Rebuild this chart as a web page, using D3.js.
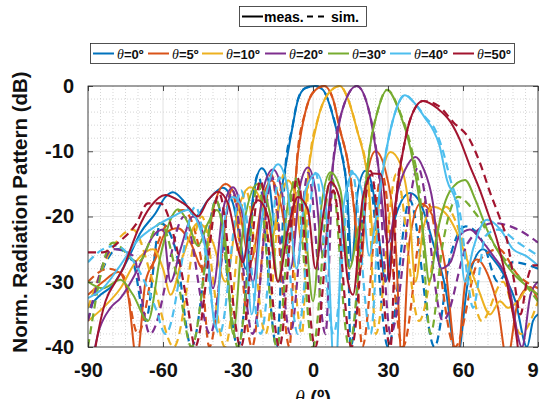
<!DOCTYPE html>
<html><head><meta charset="utf-8">
<script src="https://cdn.jsdelivr.net/npm/d3@7"></script>
<style>body{margin:0;background:#fff;overflow:hidden}</style>
</head><body>
<svg id="c" width="539" height="399"></svg>
<script>
// ---- data ----
const angles = ["0","5","10","20","30","40","50"];
const colors = ["#0072BD","#D95319","#EDB120","#7E2F8E","#77AC30","#4DBEEE","#A2142F"];
const xTicks = [-90,-60,-30,0,30,60,90];
const yTicks = [0,-10,-20,-30,-40];

const meas0 = [[-90,-34],[-85,-32],[-80,-30.5],[-74,-26.5],[-69,-22.5],[-63,-19.5],[-59,-17],[-56,-16.3],[-52,-17.5],[-47,-20],[-42,-17.5],[-36,-15.6],[-32,-18],[-29,-24],[-27,-28],[-24,-17],[-20.5,-12.6],[-17.5,-15],[-15,-22],[-13.5,-18],[-11,-12.4],[-8.4,-6.7],[-6,-2.1],[-3,-0.3],[1,0],[4,-0.6],[7.6,-4.1],[10.8,-9.3],[13.6,-16],[15.5,-27],[18,-16],[21,-13],[24,-16],[27,-25],[29,-30],[33,-20],[38.8,-16.4],[43,-18],[48,-24],[53,-31],[57.6,-42],[62,-30],[68,-25],[72,-26.5],[76,-28.7],[81,-33],[85.6,-40],[88,-36],[90,-35]];
const sim0 = [[-90,-36],[-84,-28],[-78,-25],[-72,-27],[-67,-36],[-61,-21],[-55,-25],[-48.6,-40],[-38.7,-17.5],[-30,-40],[-22,-13.5],[-14.5,-40],[-11,-12.2],[-8.4,-6.6],[-6,-2],[-3,-0.3],[1,0],[4,-0.6],[7.6,-4],[10.8,-9.2],[13.6,-16],[15,-40],[22,-13.5],[30,-40],[38.7,-17.5],[48.6,-40],[55,-26],[61,-21.5],[68,-24],[74,-30],[80,-27],[90,-28]];

const meas5 = [[-90,-32],[-84,-30],[-78,-28.5],[-74,-32],[-70.5,-42],[-67,-30],[-63,-26.5],[-59,-22.5],[-54,-21.8],[-49,-24],[-44,-28],[-40,-19],[-35,-15],[-30,-18],[-25,-27],[-20,-17],[-16.5,-14.5],[-13,-18],[-9.5,-24],[-6,-10.3],[-3.2,-4.2],[0,-1],[4.5,0],[8,-2],[10.8,-6.7],[14,-11.8],[16.5,-19],[19,-28],[22,-13],[25,-10],[29,-13],[33,-24],[35.6,-42],[38.5,-24],[43,-18],[48,-20],[53,-28],[57.6,-42],[61,-30],[65.6,-26.6],[70,-29],[74,-34],[77.6,-42],[82,-33],[86.8,-30.8],[90,-33]];
const sim5 = [[-90,-30],[-82,-28],[-76,-29],[-70,-38],[-62,-24],[-52,-19],[-45,-26],[-41.5,-40],[-32.5,-16],[-24.4,-40],[-16.7,-13.5],[-9.4,-40],[-6.3,-10.8],[-3.2,-4.2],[0,-1],[4.5,0],[8,-2],[10.8,-6.7],[14,-11.8],[16.5,-19],[19.7,-40],[27.5,-13.3],[35.9,-40],[45.4,-17.5],[56.8,-40],[66,-27],[74.2,-25],[82,-29],[90,-31]];

const meas10 = [[-90,-36],[-84,-34],[-77,-31],[-71,-27],[-64,-25],[-60,-28],[-57,-32],[-52,-26],[-46,-21],[-40,-24],[-35,-30],[-30,-19],[-25,-15.5],[-20.5,-18],[-17,-24],[-13,-17],[-10,-14.5],[-7,-17],[-4.5,-24],[-1.5,-12],[2,-5],[5.5,-1.5],[10.8,0],[14,-2],[17.6,-6.7],[22,-14.4],[24.5,-24],[27.5,-14],[31,-10.1],[35,-12],[38.5,-19],[41,-30],[44,-22],[48,-18.5],[53,-19.5],[57,-22],[62,-27],[66,-31],[70.8,-35],[74.8,-33],[78,-34],[82,-33],[86,-31],[90,-32]];
const sim10 = [[-90,-34],[-82,-26],[-72,-22],[-64,-30],[-55.7,-40],[-44.5,-20],[-35.2,-40],[-26.8,-16],[-19,-38],[-11.6,-13.5],[-4.4,-38],[-1.5,-12],[2,-5],[5.5,-1.5],[10.8,0],[14,-2],[17.6,-6.7],[22,-14.4],[25.1,-38],[33.3,-13.5],[42.4,-36],[53,-18.5],[60,-24],[67.5,-36],[76,-30],[83,-38],[90,-33]];

const meas20 = [[-90,-46],[-86,-38],[-81,-34],[-77,-32.5],[-70,-28],[-64,-23],[-60,-22],[-57,-30],[-53,-25],[-48,-20],[-43,-24],[-40,-31],[-36,-19],[-32,-15.5],[-28,-20],[-24,-30],[-20,-16],[-16,-12.8],[-12.5,-16],[-9,-28],[-5,-15],[-2,-12.5],[1,-16],[4,-26],[8,-12],[11.5,-4],[17.5,0],[22.5,-4],[26,-12],[30,-24],[34,-16],[38,-12],[41,-10.9],[44,-12.5],[48,-18],[51,-28],[55,-27],[58.5,-23],[62.8,-22],[67,-23.5],[72,-26],[78,-30],[83.6,-40],[87,-32],[90,-30]];
const sim20 = [[-90,-36],[-80,-25],[-72,-26],[-65.2,-38],[-51.5,-20],[-41.1,-38],[-32.2,-16],[-24.1,-38],[-16.4,-14],[-9.1,-38],[-1.9,-13.3],[5,-38],[8,-12],[11.5,-4],[17.5,0],[22.5,-4],[26,-12],[31,-38],[42,-12.5],[52,-36],[62,-24],[72,-21],[82,-22],[90,-24]];

const meas30 = [[-90,-30],[-84,-31],[-77,-29.7],[-72,-32],[-66,-36],[-61,-26],[-57,-20.5],[-54,-18.9],[-50,-21],[-46,-24.5],[-42,-21],[-38.5,-19],[-35,-24],[-32,-38],[-28,-22],[-22,-15],[-17,-20],[-14,-30],[-10,-18],[-7,-15],[-3.5,-20],[0,-33],[3.5,-18],[7,-13.2],[11,-16],[14.5,-28],[18,-22],[20.8,-16],[22.8,-9.3],[25.6,-4.2],[29.6,-0.6],[34.8,-4.2],[38.8,-9.3],[42,-16],[44.5,-24],[46.5,-30],[50,-22],[55,-16],[60.8,-14.4],[65,-17.5],[69.6,-22],[75,-26],[80,-28.7],[85,-30.5],[90,-32]];
const sim30 = [[-90,-40],[-80,-24],[-70,-27],[-61,-21],[-54,-30],[-48.6,-40],[-38.7,-17.5],[-30,-40],[-22,-15],[-14.5,-40],[-7.2,-14],[0,-40],[7.2,-13.5],[14.5,-40],[20.8,-16],[22.8,-9.3],[25.6,-4.2],[29.6,-0.6],[35,-4.2],[39.2,-9.3],[42.6,-16],[47,-38],[52,-24],[58,-17],[65,-19.5],[73.6,-25],[82,-29],[90,-33]];

const meas40 = [[-90,-32.5],[-84,-31],[-78,-28],[-70,-23.6],[-63,-21.5],[-56,-20],[-50,-19],[-46,-21],[-42,-27],[-39,-37],[-36,-22],[-32,-17],[-28,-19],[-24.5,-35],[-21,-22],[-17,-14],[-14,-12],[-10.5,-15],[-6.5,-28],[-3,-16],[1.5,-13.4],[5,-18],[8.8,-45],[12,-19],[16,-13.4],[19.5,-16],[22.5,-26],[24.5,-22],[26.8,-16],[29.6,-9.3],[32.5,-4.5],[36.8,-1.4],[41,-2.8],[45,-5],[48,-6.7],[50.5,-9],[53.6,-14.4],[57.6,-18.5],[60.8,-30],[64,-25],[69.6,-20.5],[75,-22],[80,-25],[85,-26],[90,-27.5]];
const sim40 = [[-90,-27],[-84,-25],[-79,-24.5],[-70,-28],[-63,-34],[-59,-38],[-47,-18.5],[-37.4,-38],[-28.8,-16],[-20.9,-38],[-13.4,-14],[-6.1,-38],[1,-13.3],[8.2,-38],[15.5,-13],[23.1,-38],[26.8,-16],[29.6,-9.3],[32.5,-4.5],[36.8,-1.4],[41,-2.8],[45,-4.8],[49,-6.8],[52,-10],[55,-14.4],[59,-20],[62,-30],[64,-34],[69,-23],[74,-22],[82,-24],[90,-26]];

const meas50 = [[-90,-48],[-87,-40],[-83,-33],[-79,-30],[-76,-28],[-73,-25],[-70,-22],[-65,-18.5],[-59,-16.7],[-54,-17.5],[-50,-18.5],[-46,-20],[-42,-17.5],[-38,-16.2],[-34,-18],[-30,-25],[-28,-27],[-25,-20],[-22,-17.5],[-18,-20],[-14,-30],[-10,-22],[-6,-17],[-2,-19],[1,-28],[4,-20],[7,-14.7],[10.5,-17],[14,-30],[16,-32],[20,-17],[24,-13.4],[27,-13.5],[29,-19],[30.5,-30],[32,-22],[33.6,-16],[36,-10],[39,-5],[44,-2.3],[50,-3.5],[55,-5.5],[58.8,-8.3],[62.5,-12],[66.8,-16],[70,-19.5],[73.6,-23.6],[78,-31],[81.6,-39],[84,-48]];
const sim50 = [[-90,-25.5],[-84,-25.5],[-78,-24],[-71,-21.3],[-66,-18],[-61,-18],[-55,-24],[-50,-34],[-47.2,-40],[-37.5,-16.5],[-28.9,-40],[-21,-14.5],[-13.5,-40],[-6.3,-14],[0.9,-40],[8.1,-16],[15.4,-40],[23,-13],[31,-40],[33.6,-16],[36,-10],[39,-5],[44,-2.3],[50,-3],[56,-5.5],[62.8,-8.3],[67,-12],[71,-16.5],[74.5,-20],[77.6,-23.6],[80.5,-30],[83,-35],[85.5,-30],[88,-27.5],[90,-27.5]];

const measured = [meas0, meas5, meas10, meas20, meas30, meas40, meas50];
const simulated = [sim0, sim5, sim10, sim20, sim30, sim40, sim50];

// ---- drawing ----
const svg = d3.select("#c");
const L = 88, R = 538, T = 86, B = 347;
const x = d3.scaleLinear().domain([-90, 90]).range([L, R]);
const y = d3.scaleLinear().domain([-40, 0]).range([B, T]);
const FONT = "'Liberation Sans', Arial, Helvetica, sans-serif";

svg.append("rect").attr("x", 0).attr("y", 0).attr("width", 539).attr("height", 399).attr("fill", "#fff");
svg.append("rect").attr("x", L).attr("y", T).attr("width", R - L).attr("height", B - T).attr("fill", "#fff");

// minor grid
const g = svg.append("g");
d3.range(-90, 91, 5).filter(v => v % 30 !== 0).forEach(v => {
  g.append("line").attr("x1", x(v)).attr("x2", x(v)).attr("y1", T).attr("y2", B)
    .attr("stroke", "#c4c4c4").attr("stroke-width", 0.7).attr("stroke-dasharray", "1,2");
});
d3.range(-40, 1, 2).filter(v => v % 10 !== 0).forEach(v => {
  g.append("line").attr("x1", L).attr("x2", R).attr("y1", y(v)).attr("y2", y(v))
    .attr("stroke", "#c4c4c4").attr("stroke-width", 0.7).attr("stroke-dasharray", "1,2");
});
// major grid
xTicks.forEach(v => g.append("line").attr("x1", x(v)).attr("x2", x(v)).attr("y1", T).attr("y2", B)
  .attr("stroke", "#dadada").attr("stroke-width", 0.8));
yTicks.forEach(v => g.append("line").attr("x1", L).attr("x2", R).attr("y1", y(v)).attr("y2", y(v))
  .attr("stroke", "#dadada").attr("stroke-width", 0.8));

// curves
svg.append("clipPath").attr("id", "clip").append("rect")
  .attr("x", L).attr("y", T - 2).attr("width", R - L).attr("height", B - T + 2);
const line = d3.line().x(d => x(d[0])).y(d => y(d[1])).curve(d3.curveMonotoneX);
const cg = svg.append("g").attr("clip-path", "url(#clip)");
angles.forEach((a, i) => {
  cg.append("path").datum(measured[i]).attr("d", line).attr("fill", "none")
    .attr("stroke", colors[i]).attr("stroke-width", 2).attr("stroke-linejoin", "round");
  cg.append("path").datum(simulated[i]).attr("d", line).attr("fill", "none")
    .attr("stroke", colors[i]).attr("stroke-width", 2.2).attr("stroke-dasharray", "8,5");
});

// box
svg.append("rect").attr("x", L).attr("y", T).attr("width", R - L).attr("height", B - T)
  .attr("fill", "none").attr("stroke", "#262626").attr("stroke-width", 0.8);

// axes
const fmt = d => String(d);
const ax = svg.append("g").attr("transform", `translate(0,${B})`)
  .call(d3.axisBottom(x).tickValues(xTicks).tickSize(-5).tickPadding(16).tickFormat(fmt));
const axT = svg.append("g").attr("transform", `translate(0,${T})`)
  .call(d3.axisTop(x).tickValues(xTicks).tickSize(-5).tickFormat(""));
const ay = svg.append("g").attr("transform", `translate(${L},0)`)
  .call(d3.axisLeft(y).tickValues(yTicks).tickSize(-5).tickPadding(14).tickFormat(fmt));
const ayR = svg.append("g").attr("transform", `translate(${R},0)`)
  .call(d3.axisRight(y).tickValues(yTicks).tickSize(-5).tickFormat(""));
[ax, axT, ay, ayR].forEach(a => {
  a.select(".domain").remove();
  a.selectAll(".tick line").attr("stroke", "#262626").attr("stroke-width", 0.8);
  a.selectAll("text").attr("font-family", FONT).attr("font-size", 20).attr("font-weight", "bold").attr("fill", "#111");
});

// axis labels
svg.append("text").attr("transform", "translate(27,212) rotate(-90)").attr("text-anchor", "middle")
  .attr("font-family", FONT).attr("font-size", 20.5).attr("font-weight", "bold").attr("fill", "#111")
  .text("Norm. Radiation Pattern (dB)");
const xl = svg.append("text").attr("x", 313).attr("y", 405).attr("text-anchor", "middle")
  .attr("font-family", FONT).attr("font-size", 20).attr("font-weight", "bold").attr("fill", "#111");
xl.append("tspan").attr("font-style", "italic").attr("font-weight", "normal").attr("font-family", "'Liberation Serif', serif").text("θ");
xl.append("tspan").text(" (º)");

// legend 1 (meas / sim)
const lg1 = svg.append("g");
lg1.append("rect").attr("x", 239.5).attr("y", 6.5).attr("width", 127).attr("height", 20)
  .attr("fill", "#fff").attr("stroke", "#262626").attr("stroke-width", 0.8);
lg1.append("line").attr("x1", 242).attr("x2", 263).attr("y1", 16.5).attr("y2", 16.5).attr("stroke", "#000").attr("stroke-width", 2);
lg1.append("text").attr("x", 264).attr("y", 21.5).attr("font-family", FONT).attr("font-size", 14).attr("font-weight", "bold").text("meas.");
lg1.append("line").attr("x1", 307).attr("x2", 327).attr("y1", 16.5).attr("y2", 16.5).attr("stroke", "#000").attr("stroke-width", 2).attr("stroke-dasharray", "6,5");
lg1.append("text").attr("x", 331).attr("y", 21.5).attr("font-family", FONT).attr("font-size", 14).attr("font-weight", "bold").text("sim.");

// legend 2 (angles)
const lg2 = svg.append("g");
lg2.append("rect").attr("x", 90.5).attr("y", 43.5).attr("width", 424).attr("height", 20)
  .attr("fill", "#fff").attr("stroke", "#262626").attr("stroke-width", 0.8);
const lx = [93, 148, 202, 265, 328, 390, 453];
angles.forEach((a, i) => {
  lg2.append("line").attr("x1", lx[i]).attr("x2", lx[i] + 21).attr("y1", 53.5).attr("y2", 53.5)
    .attr("stroke", colors[i]).attr("stroke-width", 2);
  const t = lg2.append("text").attr("x", lx[i] + 24).attr("y", 58.5)
    .attr("font-family", FONT).attr("font-size", 13).attr("font-weight", "bold").attr("fill", "#111");
  t.append("tspan").attr("font-style", "italic").attr("font-weight", "normal").attr("font-family", "'Liberation Serif', serif").attr("font-size", 14).text("θ");
  t.append("tspan").text("=" + a + "º");
});
</script>
</body></html>
